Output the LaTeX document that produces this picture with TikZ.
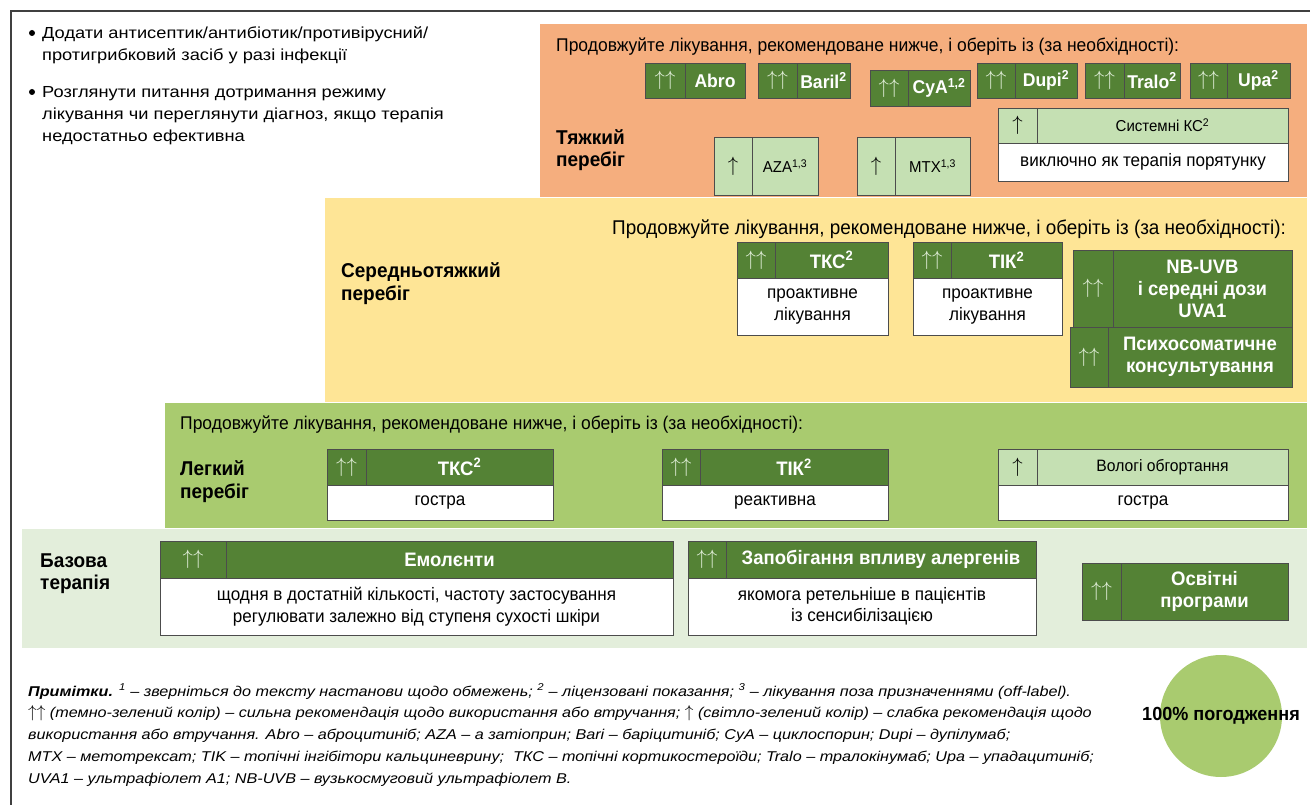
\documentclass[tikz,border=0pt]{standalone}
\usepackage{fontspec}
\setmainfont{Liberation Sans}
\newfontfamily\nar[FakeStretch=0.95]{Liberation Sans}
\newfontfamily\wid[FakeStretch=1.14]{Liberation Sans}
\usetikzlibrary{shadows}
\definecolor{orng}{HTML}{F5AE7E}
\definecolor{yell}{HTML}{FEE596}
\definecolor{lgrn}{HTML}{A9CB6F}
\definecolor{base}{HTML}{E3EEDB}
\definecolor{dkg}{HTML}{548235}
\definecolor{ltg}{HTML}{C5E0B3}
\definecolor{arrw}{HTML}{E2EFDA}
\newcommand\arrdkc{\textcolor{arrw}{\fontsize{21}{21}\selectfont$\uparrow\uparrow$}}
\newcommand\arrltc{{\fontsize{21}{21}\selectfont$\uparrow$}}
\newcommand\pairbox[8]{%
 \node[cell,#2,minimum width={#4-#3},minimum height={#7-#6}] (#1a) at ({(#3+#4)/2},{(#6+#7)/2}) {\csname arr#2\endcsname};
 \node[cell,#2,#2txt,minimum width={#5-#4},minimum height={#7-#6}] (#1t) at ({(#4+#5)/2},{(#6+#7)/2}) {#8};}
\newcommand\bodybox[6]{%
 \node[cell,wht,minimum width={#3-#2},minimum height={#5-#4}] (#1) at ({(#2+#3)/2},{(#4+#5)/2}) {#6};}
\tikzset{
 cell/.style={draw=black!70, line width=0.6pt, inner sep=0pt, align=center,
   drop shadow={shadow xshift=1.4pt, shadow yshift=-1.4pt, fill=black, opacity=0.4}},
 dkc/.style={fill=dkg, text=white},
 ltc/.style={fill=ltg, text=black},
 wht/.style={fill=white, text=black, font=\nar\fontsize{18}{21.5}\selectfont},
 dkctxt/.style={font=\nar\bfseries\fontsize{19.5}{22}\selectfont},
 ltctxt/.style={font=\nar\fontsize{15.8}{20}\selectfont},
 plain/.style={inner sep=0pt, anchor=base west, text=black},
 toptxt/.style={plain, font=\wid\fontsize{16}{22}\selectfont},
 ttl/.style={plain, font=\nar\fontsize{18.4}{20}\selectfont},
 zlab/.style={plain, font=\nar\bfseries\fontsize{20}{22}\selectfont},
 note/.style={plain, font=\wid\itshape\fontsize{14.2}{20}\selectfont},
 bul/.style={circle, fill=black, minimum size=6pt, inner sep=0pt},
}
\begin{document}
\begin{tikzpicture}[x=1pt,y=-1pt]
\useasboundingbox (0,0) rectangle (1310,805);
\fill[white] (0,0) rectangle (1310,805);
% frame
\draw[line width=1.4pt, black!75] (11,805) -- (11,11) -- (1310,11);
% zones
\fill[orng] (540,24) rectangle (1307,197);
\fill[yell] (325,198) rectangle (1307,402);
\fill[lgrn] (165,403) rectangle (1307,528);
\fill[base] (22,529) rectangle (1307,648);
% top-left text
\node[bul] (b1) at (32,33) {};
\node[toptxt] (t1) at (42,39) {Додати антисептик/антибіотик/противірусний/};
\node[toptxt] (t2) at (42,61) {протигрибковий засіб у разі інфекції};
\node[bul] (b2) at (32,92) {};
\node[toptxt] (t3) at (42,98) {Розглянути питання дотримання режиму};
\node[toptxt] (t4) at (42,120) {лікування чи переглянути діагноз, якщо терапія};
\node[toptxt] (t5) at (42,142) {недостатньо ефективна};
% ---------- severe
\node[ttl] (sttl) at (556,52) {Продовжуйте лікування, рекомендоване нижче, і оберіть із (за необхідності):};
\node[zlab] (sl1) at (556,145) {Тяжкий};
\node[zlab] (sl2) at (556,167) {перебіг};
\pairbox{abro}{dkc}{645}{685}{745}{63}{98}{\fontsize{18.5}{20}\selectfont Abro}
\pairbox{bari}{dkc}{758}{797}{850}{63}{98}{\fontsize{18.5}{20}\selectfont Baril\textsuperscript{2}}
\pairbox{cya}{dkc}{870}{908}{970}{70}{106}{\fontsize{18.5}{20}\selectfont CyA\textsuperscript{1,2}}
\pairbox{dupi}{dkc}{977}{1015}{1077}{63}{98}{\fontsize{18.5}{20}\selectfont Dupi\textsuperscript{2}}
\pairbox{tralo}{dkc}{1085}{1124}{1180}{63}{98}{\fontsize{18.5}{20}\selectfont Tralo\textsuperscript{2}}
\pairbox{upa}{dkc}{1190}{1227}{1290}{63}{98}{\fontsize{18.5}{20}\selectfont Upa\textsuperscript{2}}
\pairbox{aza}{ltc}{714}{752}{818}{137}{195}{AZA\textsuperscript{1,3}}
\pairbox{mtx}{ltc}{857}{895}{970}{137}{195}{MTX\textsuperscript{1,3}}
\pairbox{skc}{ltc}{998}{1037}{1288}{108}{143}{Системні КС\textsuperscript{2}}
\bodybox{skcb}{998}{1288}{143}{181}{виключно як терапія порятунку}
% ---------- moderate
\node[ttl, font=\nar\fontsize{19.9}{22}\selectfont] (mttl) at (612,235) {Продовжуйте лікування, рекомендоване нижче, і оберіть із (за необхідності):};
\node[zlab] (ml1) at (341,278) {Середньотяжкий};
\node[zlab] (ml2) at (341,301) {перебіг};
\pairbox{mtkc}{dkc}{737}{775}{888}{242}{278}{ТКС\textsuperscript{2}}
\bodybox{mtkcb}{737}{888}{278}{335}{проактивне\\лікування}
\pairbox{mtik}{dkc}{913}{951}{1062}{242}{278}{ТІК\textsuperscript{2}}
\bodybox{mtikb}{913}{1062}{278}{335}{проактивне\\лікування}
\pairbox{nb}{dkc}{1073}{1113}{1292}{250}{327}{NB-UVB\\і середні дози\\UVA1}
\pairbox{psy}{dkc}{1070}{1108}{1292}{327}{387}{Психосоматичне\\консультування}
% ---------- mild
\node[ttl] (lttl) at (180,429) {Продовжуйте лікування, рекомендоване нижче, і оберіть із (за необхідності):};
\node[zlab] (ll1) at (180,475) {Легкий};
\node[zlab] (ll2) at (180,498) {перебіг};
\pairbox{ltkc}{dkc}{327}{366}{553}{449}{485}{ТКС\textsuperscript{2}}
\bodybox{ltkcb}{327}{553}{485}{520}{гостра}
\pairbox{ltik}{dkc}{662}{700}{888}{449}{485}{ТІК\textsuperscript{2}}
\bodybox{ltikb}{662}{888}{485}{520}{реактивна}
\pairbox{wet}{ltc}{998}{1037}{1288}{449}{485}{\fontsize{16.5}{18}\selectfont Вологі обгортання}
\bodybox{wetb}{998}{1288}{485}{520}{гостра}
% ---------- base
\node[zlab] (bl1) at (40,567) {Базова};
\node[zlab] (bl2) at (40,589) {терапія};
\pairbox{emo}{dkc}{160}{226}{673}{541}{578}{Емолєнти}
\bodybox{emob}{160}{673}{578}{635}{щодня в достатній кількості, частоту застосування\\регулювати залежно від ступеня сухості шкіри}
\pairbox{all}{dkc}{688}{726}{1036}{541}{578}{Запобігання впливу алергенів}
\bodybox{allb}{688}{1036}{578}{635}{якомога ретельніше в пацієнтів\\із сенсибілізацією}
\pairbox{edu}{dkc}{1082}{1121}{1288}{563}{620}{Освітні\\програми}
% ---------- circle
\node[circle, fill=lgrn, minimum size=122pt, inner sep=0pt] (circ) at (1221,716) {};
\node[inner sep=0pt, font=\nar\bfseries\fontsize{19}{20}\selectfont] (agree) at (1221,716) {100\% погодження};
% ---------- notes
\node[note] (n1) at (28,696) {\textbf{Примітки.} \textsuperscript{1} – зверніться до тексту настанови щодо обмежень; \textsuperscript{2} – ліцензовані показання; \textsuperscript{3} – лікування поза призначеннями (off-label).};
\node[note] (n2) at (28,717) {{\fontsize{17}{17}\selectfont$\uparrow\uparrow$} (темно-зелений колір) – сильна рекомендація щодо використання або втручання; {\fontsize{17}{17}\selectfont$\uparrow$} (світло-зелений колір) – слабка рекомендація щодо};
\node[note] (n3) at (28,739) {використання або втручання. Abro – аброцитиніб; AZA – а затіоприн; Bari – баріцитиніб; CyA – циклоспорин; Dupi – дупілумаб;};
\node[note] (n4) at (28,761) {MTX – метотрексат; TIK – топічні інгібітори кальциневрину;\ \ ТКС – топічні кортикостероїди; Tralo – тралокінумаб; Upa – упадацитиніб;};
\node[note] (n5) at (28,783) {UVA1 – ультрафіолет A1; NB-UVB – вузькосмуговий ультрафіолет B.};
\end{tikzpicture}
\end{document}
